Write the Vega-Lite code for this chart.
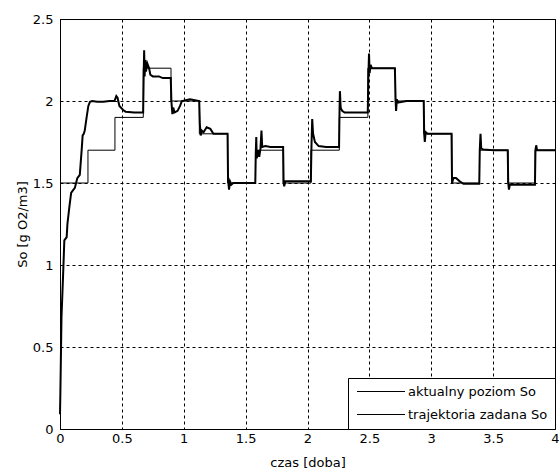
{
  "$schema": "https://vega.github.io/schema/vega-lite/v6.json",
  "width": 495,
  "height": 410,
  "autosize": {"type": "none"},
  "padding": {"left": 60, "top": 19, "right": 4, "bottom": 46},
  "background": "white",
  "config": {
    "font": "DejaVu Sans",
    "view": {"stroke": "black", "strokeWidth": 1},
    "axis": {
      "domainColor": "black",
      "gridColor": "black",
      "gridDash": [3, 3],
      "gridOpacity": 1,
      "gridWidth": 1,
      "ticks": false,
      "tickSize": 0,
      "labelColor": "black",
      "labelFont": "DejaVu Sans",
      "labelFontSize": 13,
      "labelFlush": false,
      "labelOverlap": false,
      "titleColor": "black",
      "titleFont": "DejaVu Sans",
      "titleFontSize": 13,
      "titleFontWeight": "normal"
    }
  },
  "data": {
    "values": [
      {"t": 0.000, "v": 0.09, "seria": "aktualny poziom So"},
      {"t": 0.003, "v": 0.22, "seria": "aktualny poziom So"},
      {"t": 0.012, "v": 0.68, "seria": "aktualny poziom So"},
      {"t": 0.027, "v": 0.98, "seria": "aktualny poziom So"},
      {"t": 0.035, "v": 1.15, "seria": "aktualny poziom So"},
      {"t": 0.054, "v": 1.17, "seria": "aktualny poziom So"},
      {"t": 0.060, "v": 1.25, "seria": "aktualny poziom So"},
      {"t": 0.075, "v": 1.35, "seria": "aktualny poziom So"},
      {"t": 0.090, "v": 1.44, "seria": "aktualny poziom So"},
      {"t": 0.100, "v": 1.45, "seria": "aktualny poziom So"},
      {"t": 0.120, "v": 1.47, "seria": "aktualny poziom So"},
      {"t": 0.140, "v": 1.53, "seria": "aktualny poziom So"},
      {"t": 0.160, "v": 1.55, "seria": "aktualny poziom So"},
      {"t": 0.175, "v": 1.70, "seria": "aktualny poziom So"},
      {"t": 0.183, "v": 1.79, "seria": "aktualny poziom So"},
      {"t": 0.192, "v": 1.80, "seria": "aktualny poziom So"},
      {"t": 0.200, "v": 1.82, "seria": "aktualny poziom So"},
      {"t": 0.215, "v": 1.90, "seria": "aktualny poziom So"},
      {"t": 0.229, "v": 1.97, "seria": "aktualny poziom So"},
      {"t": 0.242, "v": 1.995, "seria": "aktualny poziom So"},
      {"t": 0.260, "v": 2.0, "seria": "aktualny poziom So"},
      {"t": 0.300, "v": 1.995, "seria": "aktualny poziom So"},
      {"t": 0.350, "v": 1.995, "seria": "aktualny poziom So"},
      {"t": 0.400, "v": 2.0, "seria": "aktualny poziom So"},
      {"t": 0.440, "v": 2.0, "seria": "aktualny poziom So"},
      {"t": 0.455, "v": 2.03, "seria": "aktualny poziom So"},
      {"t": 0.465, "v": 2.02, "seria": "aktualny poziom So"},
      {"t": 0.480, "v": 1.97, "seria": "aktualny poziom So"},
      {"t": 0.510, "v": 1.945, "seria": "aktualny poziom So"},
      {"t": 0.530, "v": 1.935, "seria": "aktualny poziom So"},
      {"t": 0.600, "v": 1.93, "seria": "aktualny poziom So"},
      {"t": 0.672, "v": 1.93, "seria": "aktualny poziom So"},
      {"t": 0.676, "v": 2.15, "seria": "aktualny poziom So"},
      {"t": 0.680, "v": 2.31, "seria": "aktualny poziom So"},
      {"t": 0.684, "v": 2.15, "seria": "aktualny poziom So"},
      {"t": 0.688, "v": 2.25, "seria": "aktualny poziom So"},
      {"t": 0.695, "v": 2.18, "seria": "aktualny poziom So"},
      {"t": 0.705, "v": 2.23, "seria": "aktualny poziom So"},
      {"t": 0.720, "v": 2.20, "seria": "aktualny poziom So"},
      {"t": 0.730, "v": 2.16, "seria": "aktualny poziom So"},
      {"t": 0.750, "v": 2.15, "seria": "aktualny poziom So"},
      {"t": 0.800, "v": 2.15, "seria": "aktualny poziom So"},
      {"t": 0.830, "v": 2.14, "seria": "aktualny poziom So"},
      {"t": 0.895, "v": 2.14, "seria": "aktualny poziom So"},
      {"t": 0.900, "v": 2.00, "seria": "aktualny poziom So"},
      {"t": 0.908, "v": 1.92, "seria": "aktualny poziom So"},
      {"t": 0.915, "v": 1.96, "seria": "aktualny poziom So"},
      {"t": 0.925, "v": 1.93, "seria": "aktualny poziom So"},
      {"t": 0.950, "v": 1.94, "seria": "aktualny poziom So"},
      {"t": 0.970, "v": 1.97, "seria": "aktualny poziom So"},
      {"t": 0.985, "v": 2.0, "seria": "aktualny poziom So"},
      {"t": 1.050, "v": 2.01, "seria": "aktualny poziom So"},
      {"t": 1.125, "v": 2.0, "seria": "aktualny poziom So"},
      {"t": 1.130, "v": 1.86, "seria": "aktualny poziom So"},
      {"t": 1.137, "v": 1.79, "seria": "aktualny poziom So"},
      {"t": 1.145, "v": 1.82, "seria": "aktualny poziom So"},
      {"t": 1.160, "v": 1.81, "seria": "aktualny poziom So"},
      {"t": 1.185, "v": 1.84, "seria": "aktualny poziom So"},
      {"t": 1.215, "v": 1.83, "seria": "aktualny poziom So"},
      {"t": 1.240, "v": 1.80, "seria": "aktualny poziom So"},
      {"t": 1.354, "v": 1.80, "seria": "aktualny poziom So"},
      {"t": 1.358, "v": 1.52, "seria": "aktualny poziom So"},
      {"t": 1.366, "v": 1.46, "seria": "aktualny poziom So"},
      {"t": 1.374, "v": 1.51, "seria": "aktualny poziom So"},
      {"t": 1.385, "v": 1.49, "seria": "aktualny poziom So"},
      {"t": 1.400, "v": 1.50, "seria": "aktualny poziom So"},
      {"t": 1.578, "v": 1.50, "seria": "aktualny poziom So"},
      {"t": 1.582, "v": 1.68, "seria": "aktualny poziom So"},
      {"t": 1.586, "v": 1.78, "seria": "aktualny poziom So"},
      {"t": 1.590, "v": 1.65, "seria": "aktualny poziom So"},
      {"t": 1.600, "v": 1.70, "seria": "aktualny poziom So"},
      {"t": 1.610, "v": 1.66, "seria": "aktualny poziom So"},
      {"t": 1.620, "v": 1.71, "seria": "aktualny poziom So"},
      {"t": 1.628, "v": 1.82, "seria": "aktualny poziom So"},
      {"t": 1.634, "v": 1.72, "seria": "aktualny poziom So"},
      {"t": 1.660, "v": 1.725, "seria": "aktualny poziom So"},
      {"t": 1.700, "v": 1.72, "seria": "aktualny poziom So"},
      {"t": 1.803, "v": 1.72, "seria": "aktualny poziom So"},
      {"t": 1.807, "v": 1.50, "seria": "aktualny poziom So"},
      {"t": 1.812, "v": 1.48, "seria": "aktualny poziom So"},
      {"t": 1.820, "v": 1.51, "seria": "aktualny poziom So"},
      {"t": 1.900, "v": 1.51, "seria": "aktualny poziom So"},
      {"t": 2.027, "v": 1.51, "seria": "aktualny poziom So"},
      {"t": 2.032, "v": 1.72, "seria": "aktualny poziom So"},
      {"t": 2.038, "v": 1.89, "seria": "aktualny poziom So"},
      {"t": 2.045, "v": 1.80, "seria": "aktualny poziom So"},
      {"t": 2.060, "v": 1.75, "seria": "aktualny poziom So"},
      {"t": 2.090, "v": 1.725, "seria": "aktualny poziom So"},
      {"t": 2.150, "v": 1.72, "seria": "aktualny poziom So"},
      {"t": 2.255, "v": 1.72, "seria": "aktualny poziom So"},
      {"t": 2.259, "v": 1.95, "seria": "aktualny poziom So"},
      {"t": 2.262, "v": 2.06, "seria": "aktualny poziom So"},
      {"t": 2.268, "v": 1.96, "seria": "aktualny poziom So"},
      {"t": 2.280, "v": 1.94, "seria": "aktualny poziom So"},
      {"t": 2.300, "v": 1.93, "seria": "aktualny poziom So"},
      {"t": 2.400, "v": 1.93, "seria": "aktualny poziom So"},
      {"t": 2.487, "v": 1.93, "seria": "aktualny poziom So"},
      {"t": 2.492, "v": 2.15, "seria": "aktualny poziom So"},
      {"t": 2.497, "v": 2.29, "seria": "aktualny poziom So"},
      {"t": 2.502, "v": 2.17, "seria": "aktualny poziom So"},
      {"t": 2.510, "v": 2.22, "seria": "aktualny poziom So"},
      {"t": 2.520, "v": 2.20, "seria": "aktualny poziom So"},
      {"t": 2.600, "v": 2.20, "seria": "aktualny poziom So"},
      {"t": 2.706, "v": 2.20, "seria": "aktualny poziom So"},
      {"t": 2.712, "v": 2.00, "seria": "aktualny poziom So"},
      {"t": 2.716, "v": 1.94, "seria": "aktualny poziom So"},
      {"t": 2.722, "v": 2.01, "seria": "aktualny poziom So"},
      {"t": 2.730, "v": 1.99, "seria": "aktualny poziom So"},
      {"t": 2.800, "v": 2.00, "seria": "aktualny poziom So"},
      {"t": 2.939, "v": 2.00, "seria": "aktualny poziom So"},
      {"t": 2.943, "v": 1.80, "seria": "aktualny poziom So"},
      {"t": 2.948, "v": 1.75, "seria": "aktualny poziom So"},
      {"t": 2.955, "v": 1.81, "seria": "aktualny poziom So"},
      {"t": 2.970, "v": 1.80, "seria": "aktualny poziom So"},
      {"t": 3.050, "v": 1.80, "seria": "aktualny poziom So"},
      {"t": 3.164, "v": 1.80, "seria": "aktualny poziom So"},
      {"t": 3.168, "v": 1.50, "seria": "aktualny poziom So"},
      {"t": 3.180, "v": 1.53, "seria": "aktualny poziom So"},
      {"t": 3.200, "v": 1.53, "seria": "aktualny poziom So"},
      {"t": 3.230, "v": 1.51, "seria": "aktualny poziom So"},
      {"t": 3.260, "v": 1.495, "seria": "aktualny poziom So"},
      {"t": 3.388, "v": 1.495, "seria": "aktualny poziom So"},
      {"t": 3.392, "v": 1.70, "seria": "aktualny poziom So"},
      {"t": 3.398, "v": 1.80, "seria": "aktualny poziom So"},
      {"t": 3.404, "v": 1.71, "seria": "aktualny poziom So"},
      {"t": 3.420, "v": 1.705, "seria": "aktualny poziom So"},
      {"t": 3.500, "v": 1.70, "seria": "aktualny poziom So"},
      {"t": 3.618, "v": 1.70, "seria": "aktualny poziom So"},
      {"t": 3.622, "v": 1.50, "seria": "aktualny poziom So"},
      {"t": 3.628, "v": 1.46, "seria": "aktualny poziom So"},
      {"t": 3.635, "v": 1.49, "seria": "aktualny poziom So"},
      {"t": 3.700, "v": 1.49, "seria": "aktualny poziom So"},
      {"t": 3.838, "v": 1.49, "seria": "aktualny poziom So"},
      {"t": 3.842, "v": 1.70, "seria": "aktualny poziom So"},
      {"t": 3.848, "v": 1.73, "seria": "aktualny poziom So"},
      {"t": 3.855, "v": 1.70, "seria": "aktualny poziom So"},
      {"t": 3.920, "v": 1.70, "seria": "aktualny poziom So"},
      {"t": 4.000, "v": 1.70, "seria": "aktualny poziom So"},
      {"t": 0.000, "v": 1.5, "seria": "trajektoria zadana So"},
      {"t": 0.226, "v": 1.7, "seria": "trajektoria zadana So"},
      {"t": 0.444, "v": 1.9, "seria": "trajektoria zadana So"},
      {"t": 0.673, "v": 2.2, "seria": "trajektoria zadana So"},
      {"t": 0.897, "v": 2.0, "seria": "trajektoria zadana So"},
      {"t": 1.126, "v": 1.8, "seria": "trajektoria zadana So"},
      {"t": 1.355, "v": 1.5, "seria": "trajektoria zadana So"},
      {"t": 1.580, "v": 1.7, "seria": "trajektoria zadana So"},
      {"t": 1.804, "v": 1.5, "seria": "trajektoria zadana So"},
      {"t": 2.028, "v": 1.7, "seria": "trajektoria zadana So"},
      {"t": 2.257, "v": 1.9, "seria": "trajektoria zadana So"},
      {"t": 2.488, "v": 2.2, "seria": "trajektoria zadana So"},
      {"t": 2.710, "v": 2.0, "seria": "trajektoria zadana So"},
      {"t": 2.940, "v": 1.8, "seria": "trajektoria zadana So"},
      {"t": 3.166, "v": 1.5, "seria": "trajektoria zadana So"},
      {"t": 3.390, "v": 1.7, "seria": "trajektoria zadana So"},
      {"t": 3.620, "v": 1.5, "seria": "trajektoria zadana So"},
      {"t": 3.840, "v": 1.7, "seria": "trajektoria zadana So"},
      {"t": 4.000, "v": 1.7, "seria": "trajektoria zadana So"}
    ]
  },
  "encoding": {
    "x": {
      "field": "t",
      "type": "quantitative",
      "scale": {"domain": [0, 4], "nice": false},
      "axis": {
        "title": "czas [doba]",
        "values": [0, 0.5, 1, 1.5, 2, 2.5, 3, 3.5, 4],
        "format": "~g",
        "labelPadding": 3,
        "titlePadding": 11
      }
    },
    "y": {
      "field": "v",
      "type": "quantitative",
      "scale": {"domain": [0, 2.5], "nice": false},
      "axis": {
        "title": "So [g O2/m3]",
        "values": [0, 0.5, 1, 1.5, 2, 2.5],
        "format": "~g",
        "labelPadding": 7,
        "titlePadding": 3
      }
    },
    "color": {
      "field": "seria",
      "type": "nominal",
      "scale": {
        "domain": ["aktualny poziom So", "trajektoria zadana So"],
        "range": ["black", "black"]
      },
      "legend": {
        "title": null,
        "orient": "bottom-right",
        "offset": 0,
        "fillColor": "white",
        "strokeColor": "black",
        "padding": 7,
        "symbolType": "M-0.9,0H8.7",
        "symbolSize": 100,
        "symbolStrokeWidth": 1,
        "labelOffset": 40,
        "rowPadding": 9,
        "labelFont": "DejaVu Sans",
        "labelFontSize": 13,
        "labelColor": "black",
        "labelLimit": 300
      }
    }
  },
  "layer": [
    {
      "transform": [{"filter": "datum.seria === 'aktualny poziom So'"}],
      "mark": {"type": "line", "strokeWidth": 2, "interpolate": "linear"}
    },
    {
      "transform": [{"filter": "datum.seria === 'trajektoria zadana So'"}],
      "mark": {"type": "line", "strokeWidth": 1, "interpolate": "step-after"}
    }
  ]
}
